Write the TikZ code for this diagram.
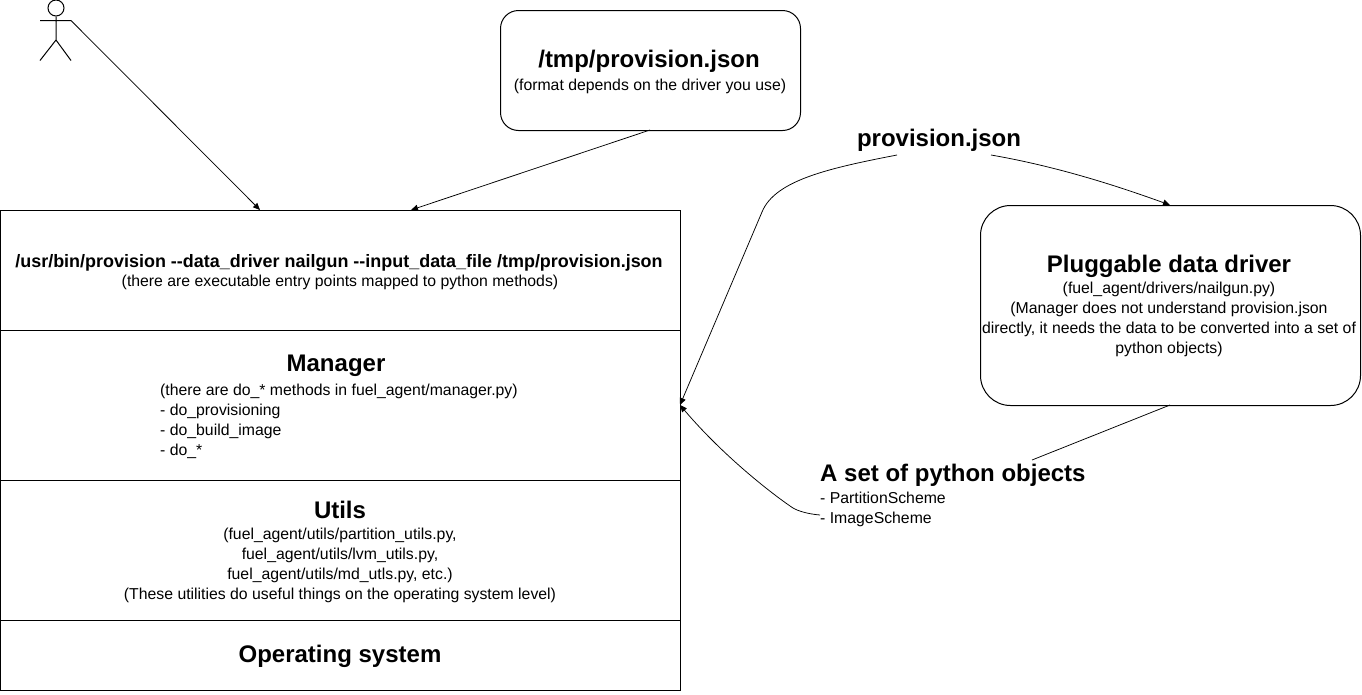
\documentclass[tikz,border=0pt]{standalone}
\usepackage{fontspec}
\setmainfont{Liberation Sans}
\usetikzlibrary{arrows.meta}
\newcommand{\bgf}{\fontsize{24}{28}\selectfont\bfseries}
\newcommand{\txf}{\fontsize{15.8}{20}\selectfont}
\tikzset{
  layer/.style={draw=black,line width=1pt,inner sep=0pt,minimum width=680pt,anchor=north west},
  round box/.style={draw=black,line width=1pt,inner sep=0pt,anchor=north west},
  big text/.style={inner sep=0pt,font=\bgf},
  small text/.style={inner sep=0pt,font=\txf,align=center},
  link/.style={line width=0.75pt,draw=black},
  arrowlink/.style={link,-{Triangle[length=7pt,width=6pt]}},
  figure line/.style={line width=1pt,draw=black}
}
\begin{document}
\begin{tikzpicture}[x=1pt,y=-1pt]
\useasboundingbox (0,0) rectangle (1362,694);
\fill[white] (0,0) rectangle (1362,694);
% stacked layers
\node[layer,minimum height=120pt] (cli) at (0,210) {};
\node[layer,minimum height=150pt] (mgr) at (0,330) {};
\node[layer,minimum height=140pt] (utl) at (0,480) {};
\node[layer,minimum height=70pt] (os) at (0,620) {};
\node[inner sep=0pt,font=\fontsize{17.95}{20}\selectfont\bfseries] (clit) at (339,263) {/usr/bin/provision -{}-data\_driver nailgun -{}-input\_data\_file /tmp/provision.json};
\node[small text] (clis) at (340,282) {(there are executable entry points mapped to python methods)};
\node[big text] (mgrt) at (336,366) {Manager};
\node[small text,align=left,anchor=north west] (mgrs) at (160,384) {(there are do\_* methods in fuel\_agent/manager.py)\\- do\_provisioning\\- do\_build\_image\\- do\_*};
\node[big text] (utlt) at (340,510) {Utils};
\node[small text,anchor=north] (utls) at (340,528) {(fuel\_agent/utils/partition\_utils.py,\\fuel\_agent/utils/lvm\_utils.py,\\fuel\_agent/utils/md\_utls.py, etc.)\\(These utilities do useful things on the operating system level)};
\node[big text] (ost) at (340,656) {Operating system};
% rounded boxes
\node[round box,rounded corners=18pt,minimum width=300pt,minimum height=120pt] (tmp) at (500,10) {};
\node[big text] (tmpt) at (649,61) {/tmp/provision.json};
\node[small text] (tmps) at (650,86) {(format depends on the driver you use)};
\node[round box,rounded corners=30pt,minimum width=380pt,minimum height=200pt] (drv) at (980,205) {};
\node[big text] (drvt) at (1169,266) {Pluggable data driver};
\node[small text,anchor=north] (drvs) at (1169,282) {(fuel\_agent/drivers/nailgun.py)\\(Manager does not understand provision.json\\directly, it needs the data to be converted into a set of\\python objects)};
% free labels
\node[big text] (pj) at (939,140) {provision.json};
\node[big text,anchor=west] (setp) at (820,475) {A set of python objects};
\node[small text,align=left,anchor=north west] (sett) at (820,492) {- PartitionScheme\\- ImageScheme};
% actor
\node[draw=black,circle,line width=1pt,minimum size=16pt,inner sep=0pt] (head) at (56,8) {};
\coordinate (hand) at (71,20.5);
\draw[figure line] (head.south) -- (56,40) (40,20.5) -- (hand) (40,60.5) -- (56,40) -- (71,60.5);
% connectors
\coordinate (cliA) at (260,210);
\coordinate (cliB) at (411,210);
\coordinate (tmpS) at (650,130);
\coordinate (mgrE) at (680,405);
\coordinate (drvN) at (1170,205);
\coordinate (drvS) at (1170,405);
\coordinate (pjL) at (897,155);
\coordinate (pjR) at (991,155);
\coordinate (setE) at (1032,460);
\coordinate (setW) at (820,515);
\draw[arrowlink] (hand) -- (cliA);
\draw[arrowlink] (tmpS) -- (cliB);
\draw[link] (drvS) -- (setE);
\draw[arrowlink] (pjR) .. controls (1060,167) and (1120,187) .. (drvN);
\draw[arrowlink] (pjL) .. controls (830,168) and (775,180) .. (762,212) -- (mgrE);
\draw[arrowlink] (setW) .. controls (808,514) and (798,511) .. (793,508) .. controls (775,496) and (725,458) .. (mgrE);
\end{tikzpicture}
\end{document}
